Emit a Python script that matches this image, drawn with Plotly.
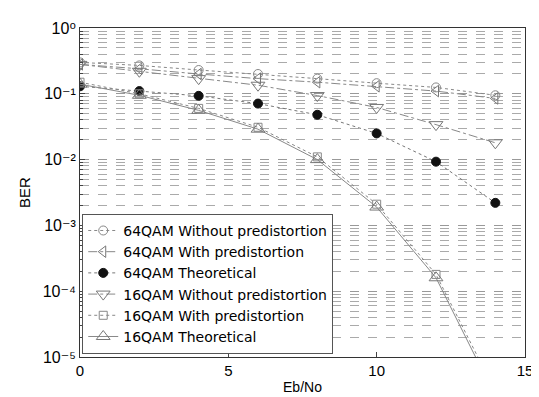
import plotly.graph_objects as go

ebno = [0, 2, 4, 6, 8, 10, 12, 14]

qam64_without = [0.30, 0.27, 0.23, 0.20, 0.17, 0.145, 0.125, 0.095]
qam64_with = [0.28, 0.24, 0.20, 0.17, 0.15, 0.13, 0.11, 0.085]
qam64_theory = [0.13, 0.11, 0.093, 0.071, 0.048, 0.025, 0.0093, 0.0022]
qam16_without = [0.28, 0.22, 0.17, 0.135, 0.094, 0.062, 0.034, 0.018]
qam16_with = [0.15, 0.10, 0.060, 0.031, 0.011, 0.0021, 0.00018, 0.0000030]
qam16_theory = [0.14, 0.095, 0.056, 0.029, 0.0100, 0.0019, 0.00016, 0.0000025]

names = ["64QAM Without predistortion", "64QAM With predistortion", "64QAM Theoretical",
         "16QAM Without predistortion", "16QAM With predistortion", "16QAM Theoretical"]

ytickvals = [1, 0.1, 0.01, 0.001, 0.0001, 0.00001]
yticktext = ["10⁰", "10⁻¹", "10⁻²", "10⁻³", "10⁻⁴", "10⁻⁵"]
xtickvals = [0, 5, 10, 15]

minor_vals = [m * 10.0 ** e for e in range(-5, 0) for m in range(2, 10)]

fig = go.Figure()

styles = [
    (qam64_without, "dot", "#888", dict(symbol="circle-open", size=9, color="#888", line=dict(width=1))),
    (qam64_with, "dashdot", "#888", dict(symbol="triangle-left-open", size=10, color="#777", line=dict(width=1))),
    (qam64_theory, "dot", "#777", dict(symbol="circle", size=9, color="#111", line=dict(width=1, color="#111"))),
    (qam16_without, "dashdot", "#888", dict(symbol="triangle-down-open", size=12, color="#777", line=dict(width=1))),
    (qam16_with, "dot", "#888", dict(symbol="square-open", size=8, color="#888", line=dict(width=1))),
    (qam16_theory, "solid", "#888", dict(symbol="triangle-up-open", size=12, color="#777", line=dict(width=1))),
]

for name, (vals, dash, col, mk) in zip(names, styles):
    fig.add_trace(go.Scatter(
        x=ebno, y=vals, name=name, mode="lines+markers",
        line=dict(color=col, width=1, dash=dash),
        marker=mk,
    ))

fig.update_layout(
    width=539, height=397,
    margin=dict(l=72, r=22, t=13, b=44),
    plot_bgcolor="white", paper_bgcolor="white",
    font=dict(family="Arial, Liberation Sans, DejaVu Sans, sans-serif", size=14, color="black"),
    showlegend=True,
    legend=dict(
        x=0.005, y=0.435, xanchor="left", yanchor="top",
        bordercolor="#555", borderwidth=1, bgcolor="white",
        font=dict(size=14, family="DejaVu Sans, Arial, sans-serif"), tracegroupgap=0,
    ),
)

fig.update_xaxes(
    range=[0, 15], tickvals=xtickvals, ticks="inside", ticklen=5,
    tickfont=dict(size=15),
    showline=True, linecolor="#333", linewidth=1, mirror=True,
    showgrid=False, zeroline=False,
    title=dict(text="Eb/No", standoff=4, font=dict(size=14)),
)

fig.update_yaxes(
    type="log", range=[-5, 0], tickvals=ytickvals, ticktext=yticktext,
    ticks="inside", ticklen=5, tickfont=dict(size=16),
    showline=True, linecolor="#333", linewidth=1, mirror=True,
    showgrid=True, gridcolor="#999", griddash="dash", gridwidth=1,
    minor=dict(tickvals=minor_vals, showgrid=True, gridcolor="#aaa", griddash="dash",
               ticks="inside", ticklen=3),
    zeroline=False,
    title=dict(text="BER", standoff=8, font=dict(size=15)),
)

fig.write_html("out.html")
